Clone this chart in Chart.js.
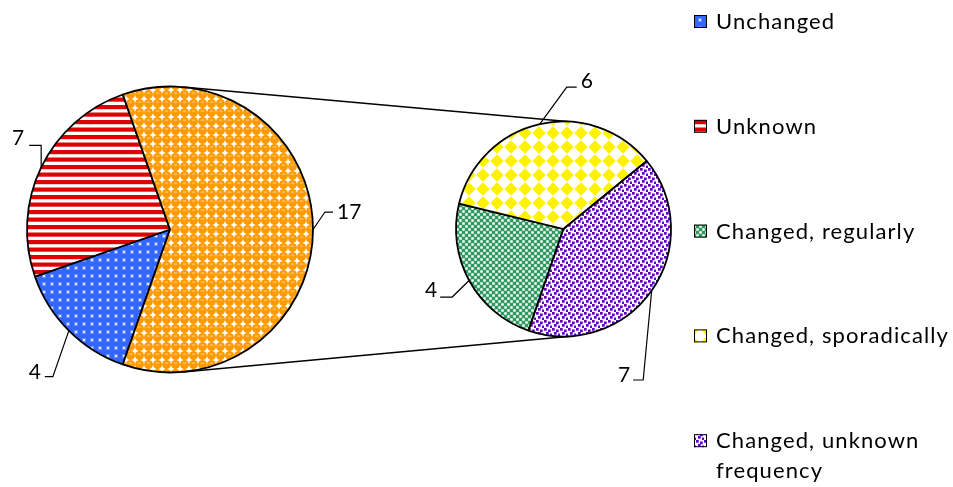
<!DOCTYPE html>
<html><head><meta charset="utf-8">
<script src="https://cdn.jsdelivr.net/npm/chart.js@4"></script>
<style>
html,body{margin:0;padding:0;background:#fff;overflow:hidden}
#wrap{position:relative;width:953px;height:487px}
canvas{position:absolute;left:0;top:0}
</style></head><body>
<div id="wrap"><canvas id="c1" width="953" height="487"></canvas><canvas id="c2" width="953" height="487"></canvas></div>
<script>
// ---- data ----
const mainLabels = ['Unchanged', 'Unknown', 'Other'];
const mainValues = [4, 7, 17];
const subLabels = ['Changed, regularly', 'Changed, sporadically', 'Changed, unknown frequency'];
const subValues = [4, 6, 7];

// ---- styles ----
const FONT = '21px Lato, "DejaVu Sans", sans-serif';
const LEGEND_FONT = '22px Lato, "DejaVu Sans", sans-serif';

function tile(w, h, fn) {
  const c = document.createElement('canvas');
  c.width = w; c.height = h;
  const g = c.getContext('2d');
  fn(g, w, h);
  return g.createPattern(c, 'repeat');
}
const pBlue = tile(8, 8, (g, w, h) => {
  g.fillStyle = '#3366ff'; g.fillRect(0, 0, w, h);
  g.fillStyle = 'rgba(255,255,255,0.25)'; g.fillRect(2, 2, 4, 4);
  g.fillStyle = 'rgba(255,255,255,0.8)'; g.fillRect(3, 3, 2, 2);
});
const pRed = tile(4, 15, (g, w, h) => {
  g.fillStyle = '#fff'; g.fillRect(0, 0, w, h);
  g.fillStyle = '#e00000'; g.fillRect(0, 0, w, 4.2); g.fillRect(0, 7.5, w, 4.2);
});
const pOrange = tile(9, 9, (g, w, h) => {
  g.fillStyle = '#fff'; g.fillRect(0, 0, w, h);
  g.fillStyle = '#ff9900'; g.beginPath(); g.arc(4.5, 4.5, 4.45, 0, Math.PI * 2); g.fill();
  g.fillStyle = '#ffb84a'; g.beginPath(); g.ellipse(4.5, 3.2, 2.0, 1.1, 0, 0, Math.PI * 2); g.fill();
});
const pGreen = tile(6, 6, (g, w, h) => {
  g.fillStyle = '#2f9a60'; g.fillRect(0, 0, w, h);
  g.fillStyle = '#fff'; g.fillRect(0.25, 0.25, 2.5, 2.5); g.fillRect(3.25, 3.25, 2.5, 2.5);
});
const pYellow = tile(14, 14, (g, w, h) => {
  g.fillStyle = '#fff'; g.fillRect(0, 0, w, h);
  g.fillStyle = '#fff200'; g.beginPath();
  g.moveTo(7, 0.3); g.lineTo(13.7, 7); g.lineTo(7, 13.7); g.lineTo(0.3, 7); g.closePath(); g.fill();
});
const pPurple = tile(8, 8, (g, w, h) => {
  g.fillStyle = '#fff'; g.fillRect(0, 0, w, h);
  g.fillStyle = '#6200c4';
  [[0, 0], [4, 1.5], [2, 4], [6, 5.5]].forEach(([x, y]) => g.fillRect(x, y, 2.7, 2.7));
});
const mainFills = [pBlue, pRed, pOrange];
const subFills = [pGreen, pYellow, pPurple];

// leader line layout: elbow offset from slice edge, horizontal run, text offset
const mainLeaders = [
  {dx: -16, dy: 46, h: -8, tx: -4, ty: -4},
  {dx: 0, dy: -22, h: -12, tx: -5, ty: -7},
  {dx: 12, dy: -17.5, h: 8, tx: 4, ty: 0}
];
const subLeaders = [
  {dx: -17, dy: 16.5, h: -12, tx: -3, ty: -6.5},
  {dx: 27, dy: -37, h: 10, tx: 4, ty: -6},
  {dx: -8.5, dy: 89.5, h: -10, tx: -3, ty: -5}
];

function leaderPlugin(id, leaders) {
  return {
    id,
    afterDatasetsDraw(chart) {
      const ctx = chart.ctx;
      const meta = chart.getDatasetMeta(0);
      const ds = chart.data.datasets[0];
      meta.data.forEach((arc, i) => {
        const p = arc.getProps(['x', 'y', 'startAngle', 'endAngle', 'outerRadius'], true);
        const m = (p.startAngle + p.endAngle) / 2;
        const px = p.x + p.outerRadius * Math.cos(m), py = p.y + p.outerRadius * Math.sin(m);
        const L = leaders[i];
        const ex = px + L.dx, ey = py + L.dy, hx = ex + L.h;
        ctx.save();
        ctx.strokeStyle = '#000'; ctx.lineWidth = 1.2;
        ctx.beginPath(); ctx.moveTo(px, py); ctx.lineTo(ex, ey); ctx.lineTo(hx, ey); ctx.stroke();
        ctx.fillStyle = '#000'; ctx.font = FONT;
        ctx.textAlign = L.h < 0 ? 'right' : 'left'; ctx.textBaseline = 'middle';
        ctx.fillText(String(ds.data[i]), hx + L.tx, ey + L.ty);
        ctx.restore();
      });
    }
  };
}

const baseOpts = {
  responsive: false, animation: false, events: [],
  plugins: {legend: {display: false}, tooltip: {enabled: false}}
};

const chart1 = new Chart(document.getElementById('c1'), {
  type: 'pie',
  data: {labels: mainLabels, datasets: [{data: mainValues, backgroundColor: mainFills, borderColor: '#000', borderWidth: 1.8}]},
  options: Object.assign({}, baseOpts, {rotation: 199.3, radius: 143, layout: {padding: {left: 0, right: 613, top: 0, bottom: 28}}}),
  plugins: [leaderPlugin('mainLabels', mainLeaders)]
});

const connectorPlugin = {
  id: 'connectors',
  beforeDatasetsDraw(chart) {
    const a = chart1.getDatasetMeta(0).data[0].getProps(['x', 'y', 'outerRadius'], true);
    const b = chart.getDatasetMeta(0).data[0].getProps(['x', 'y', 'outerRadius'], true);
    const dx = b.x - a.x, dy = b.y - a.y, d = Math.hypot(dx, dy);
    const ux = dx / d, uy = dy / d;
    const k = (a.outerRadius - b.outerRadius) / d, s = Math.sqrt(1 - k * k);
    const ctx = chart.ctx;
    ctx.save(); ctx.strokeStyle = '#000'; ctx.lineWidth = 1.5;
    [1, -1].forEach(sg => {
      const nx = ux * k - sg * uy * s, ny = uy * k + sg * ux * s;
      ctx.beginPath();
      ctx.moveTo(a.x + a.outerRadius * nx, a.y + a.outerRadius * ny);
      ctx.lineTo(b.x + b.outerRadius * nx, b.y + b.outerRadius * ny);
      ctx.stroke();
    });
    ctx.restore();
  }
};

const legendPlugin = {
  id: 'customLegend',
  afterDraw(chart) {
    const ctx = chart.ctx;
    const items = [
      {text: mainLabels[0], fill: mainFills[0]},
      {text: mainLabels[1], fill: mainFills[1]},
      {text: subLabels[0], fill: subFills[0]},
      {text: subLabels[1], fill: subFills[1]},
      {text: subLabels[2], fill: subFills[2]}
    ];
    const x0 = 694, tx = 716, base0 = 29, step = 104.8, maxW = 953 - tx - 2, lineH = 30;
    ctx.save();
    ctx.font = LEGEND_FONT; ctx.textBaseline = 'alphabetic'; ctx.textAlign = 'left';
    if ('letterSpacing' in ctx) ctx.letterSpacing = '1.1px';
    items.forEach((it, i) => {
      const by = base0 + step * i;
      ctx.fillStyle = it.fill; ctx.fillRect(x0, by - 14, 13, 13);
      ctx.strokeStyle = '#000'; ctx.lineWidth = 1; ctx.strokeRect(x0 + 0.5, by - 13.5, 12, 12);
      const words = it.text.split(' ');
      const lines = []; let cur = '';
      words.forEach(w => {
        const t = cur ? cur + ' ' + w : w;
        if (ctx.measureText(t).width > maxW && cur) { lines.push(cur); cur = w; } else cur = t;
      });
      lines.push(cur);
      ctx.fillStyle = '#000';
      lines.forEach((ln, j) => ctx.fillText(ln, tx, by + j * lineH));
    });
    ctx.restore();
  }
};

const chart2 = new Chart(document.getElementById('c2'), {
  type: 'pie',
  data: {labels: subLabels, datasets: [{data: subValues, backgroundColor: subFills, borderColor: '#000', borderWidth: 1.8}]},
  options: Object.assign({}, baseOpts, {rotation: 199, radius: 107.5, layout: {padding: {left: 414, right: 240, top: 0, bottom: 29}}}),
  plugins: [connectorPlugin, leaderPlugin('subLabels', subLeaders), legendPlugin]
});
</script>
</body></html>
